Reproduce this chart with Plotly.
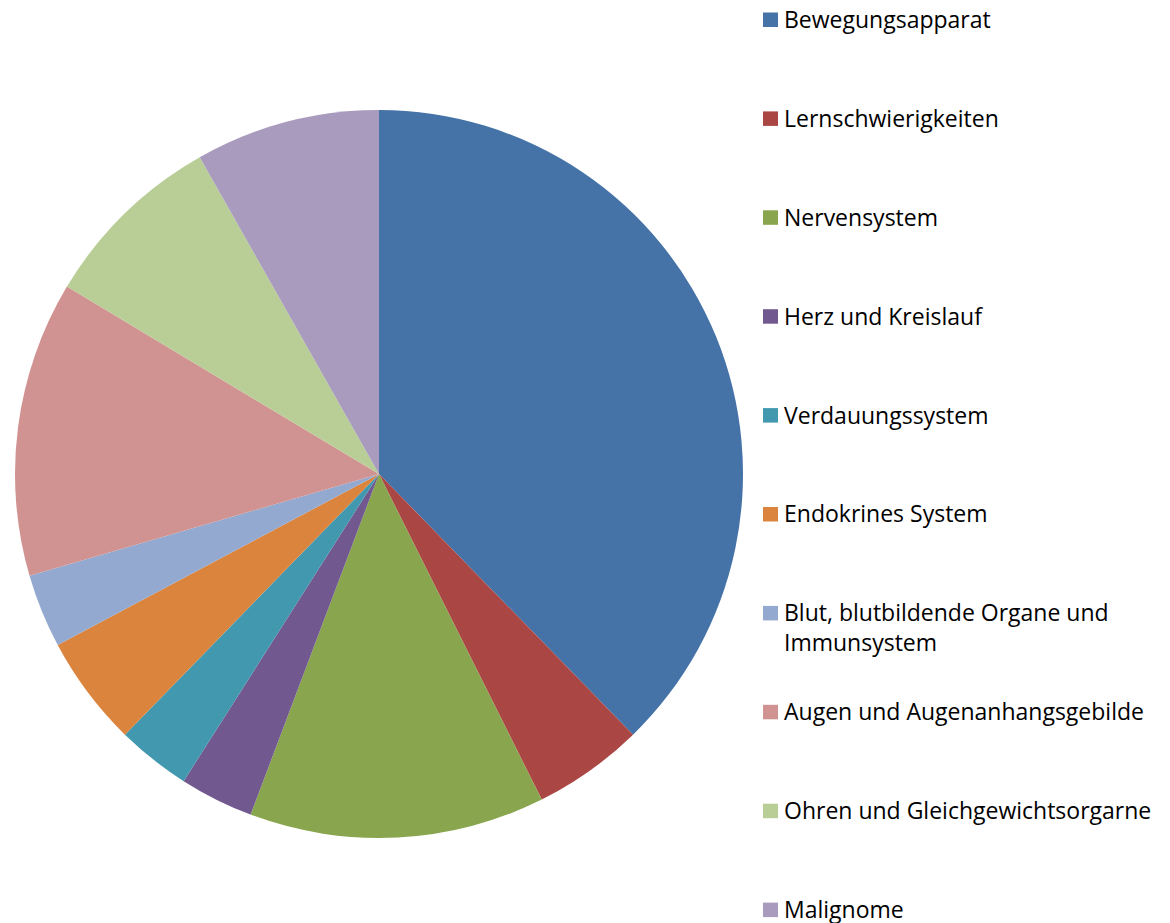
import plotly.graph_objects as go

# Diagnosegruppen (Anzahl Fälle)
labels = [
    "Bewegungsapparat",
    "Lernschwierigkeiten",
    "Nervensystem",
    "Herz und Kreislauf",
    "Verdauungssystem",
    "Endokrines System",
    "Blut, blutbildende Organe und<br>Immunsystem",
    "Augen und Augenanhangsgebilde",
    "Ohren und Gleichgewichtsorgarne",
    "Malignome",
]
values = [23, 3, 8, 2, 2, 3, 2, 8, 5, 5]
colors = [
    "#4572A7", "#AA4643", "#89A54E", "#71588F", "#4198AF",
    "#DB843D", "#93A9CF", "#D19392", "#B9CD96", "#A99BBD",
]

W, H = 1170, 923
OFF = 8  # page body margin, screen px = figure px + OFF
FONT = "Open Sans"
FS = 23

fig = go.Figure(go.Pie(
    labels=labels,
    values=values,
    sort=False,
    direction="clockwise",
    rotation=0,
    marker=dict(colors=colors, line=dict(width=0)),
    textinfo="none",
    hoverinfo="label+value+percent",
    domain=dict(x=[(15 - OFF) / W, (743 - OFF) / W],
                y=[1 - (838 - OFF) / H, 1 - (110 - OFF) / H]),
    showlegend=False,
))

# legend drawn by hand so the entries can be spread like the original
shapes, annots = [], []
first_base, step = 27 - OFF, 98.9
for i, (lab, col) in enumerate(zip(labels, colors)):
    base = first_base + i * step
    shapes.append(dict(
        type="rect", xref="paper", yref="paper",
        x0=(763 - OFF) / W, x1=(778 - OFF) / W,
        y0=1 - base / H, y1=1 - (base - 14.5) / H,
        fillcolor=col, line=dict(width=0),
    ))
    annots.append(dict(
        text=lab, xref="paper", yref="paper",
        x=(782 - OFF) / W, y=1 - (base - 26) / H,
        xanchor="left", yanchor="top", align="left",
        showarrow=False,
        font=dict(family=FONT, size=FS, color="#000000"),
    ))

fig.update_layout(
    width=W,
    height=H,
    margin=dict(t=0, b=0, l=0, r=0),
    paper_bgcolor="#FFFFFF",
    plot_bgcolor="#FFFFFF",
    shapes=shapes,
    annotations=annots,
    font=dict(family=FONT, size=FS),
)

fig.write_html("out.html")
